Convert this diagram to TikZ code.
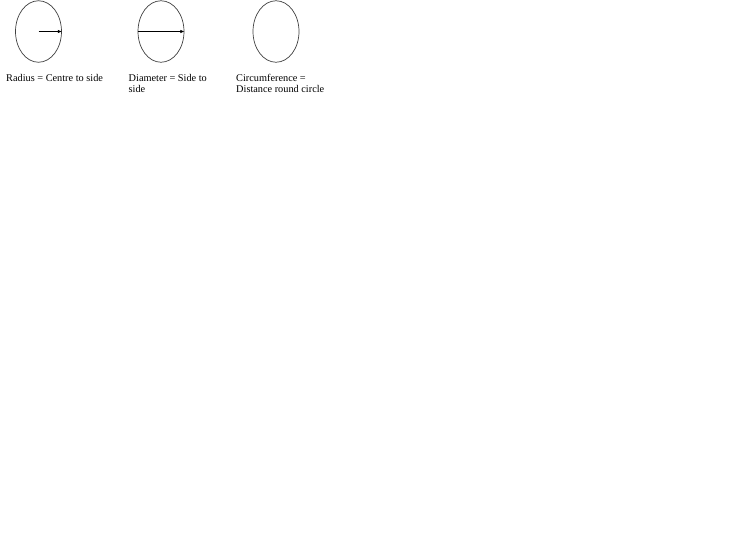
\documentclass[tikz,border=0pt]{standalone}
\usepackage{fontspec}
\setmainfont{Liberation Serif}
\usetikzlibrary{shapes.geometric,arrows.meta}
\begin{document}
\begin{tikzpicture}[x=1pt,y=-1pt,
  circ/.style={draw=black!75,line width=0.7pt,ellipse,minimum width=46pt,minimum height=61.5pt,inner sep=0pt},
  arr/.style={line width=0.6pt,-{Latex[length=4pt,width=3.5pt]}},
  lbl/.style={anchor=base west,align=left,font=\fontsize{10.3}{11}\selectfont,inner sep=0pt}]
\useasboundingbox (0,0) rectangle (746,559);
\fill[white] (0,0) rectangle (746,559);
\node[circ] (e1) at (38.5,31.5) {};
\node[circ] (e2) at (161,31.5) {};
\node[circ] (e3) at (276,31.5) {};
\draw[arr] (e1.center) -- (e1.east);
\draw[arr] (e2.west) -- (e2.east);
\node[lbl] (t1) at (6,82) {Radius = Centre to side};
\node[lbl] (t2) at (128.5,93) {Diameter = Side to\\side};
\node[lbl] (t3) at (236,93) {Circumference =\\Distance round circle};
\end{tikzpicture}
\end{document}
